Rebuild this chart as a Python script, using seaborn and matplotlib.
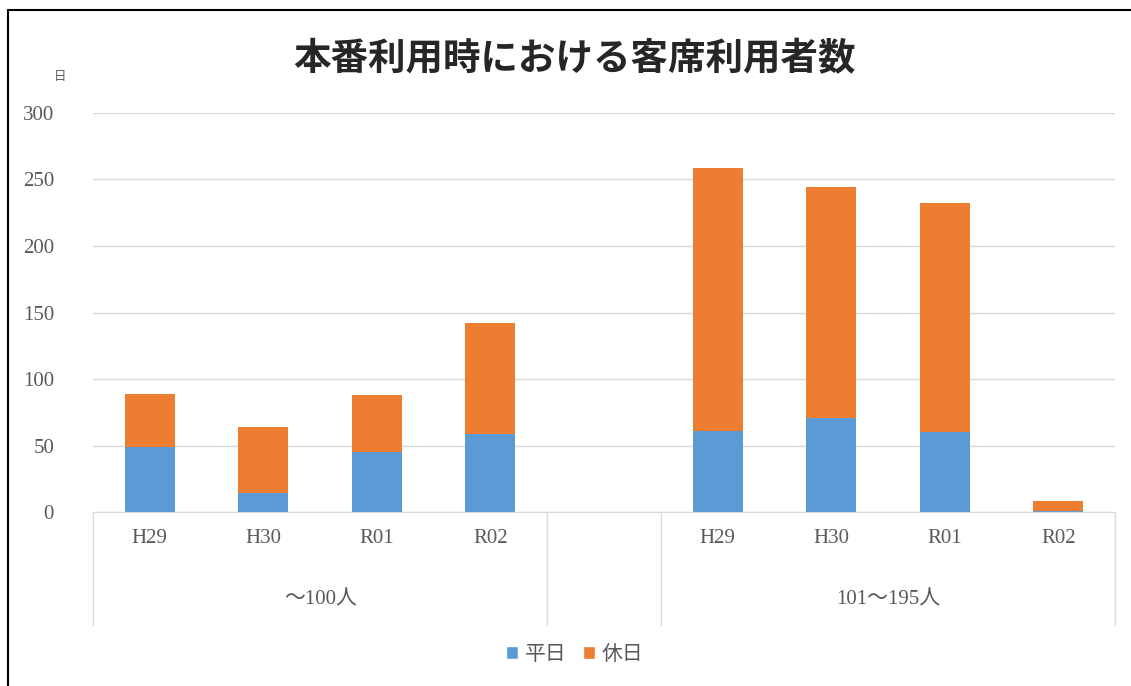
import matplotlib
matplotlib.use("Agg")
import matplotlib.pyplot as plt
import matplotlib.transforms as mtransforms
from matplotlib.lines import Line2D
from matplotlib.patches import Patch
import pandas as pd
import seaborn as sns

# data
groups = ["～100人", "101～195人"]
years = ["H29", "H30", "R01", "R02"]
heijitsu = [[49, 14, 45, 59], [61, 71, 60, 1]]   # 平日
kyujitsu = [[40, 50, 43, 83], [198, 173, 172, 7]]  # 休日
series = ["平日", "休日"]
colors = ["#5B9BD5", "#ED7D31"]

rows = []
for g, hs, ks in zip(groups, heijitsu, kyujitsu):
    for y, h, k in zip(years, hs, ks):
        rows.append({"key": g + "_" + y, "group": g, "year": y, "平日": h, "休日": k})
df = pd.DataFrame(rows)
df["total"] = df["平日"] + df["休日"]

keys1 = [groups[0] + "_" + y for y in years]
keys2 = [groups[1] + "_" + y for y in years]
order = keys1 + ["_gap"] + keys2

sns.set_style("white")
plt.rcParams["font.family"] = ["Liberation Serif", "Noto Sans CJK JP", "DejaVu Sans"]

fig = plt.figure(figsize=(11.31, 6.86), dpi=100)
ax = fig.add_axes([0.0822, 0.2536, 0.9037, 0.5817])

# stacked: full total in orange, weekday part in blue on top of it
sns.barplot(data=df, x="key", y="total", order=order, color=colors[1],
            width=0.44, ax=ax, saturation=1, linewidth=0)
sns.barplot(data=df, x="key", y="平日", order=order, color=colors[0],
            width=0.44, ax=ax, saturation=1, linewidth=0)

ax.set_ylim(0, 300)
ax.set_xlim(-0.5, len(order) - 0.5)
ax.set_yticks(range(0, 301, 50))
ax.yaxis.grid(True, color="#d9d9d9", linewidth=1)
ax.set_axisbelow(True)
for s in ["left", "right", "top"]:
    ax.spines[s].set_visible(False)
ax.spines["bottom"].set_color("#d9d9d9")
ax.tick_params(axis="y", length=0, pad=28, labelsize=15, labelcolor="#595959")
ax.tick_params(axis="x", length=0, pad=12, labelsize=15, labelcolor="#595959")
ax.set_xticks(range(len(order)))
ax.set_xticklabels(years + [""] + years)
ax.set_xlabel("")
ax.set_ylabel("")

# group labels and separators below the axis
trans = mtransforms.blended_transform_factory(ax.transData, ax.transAxes)
for x in [-0.5, 3.5, 4.5, len(order) - 0.5]:
    ax.plot([x, x], [0, -0.283], transform=trans, color="#d9d9d9",
            linewidth=1, clip_on=False)
ax.text(1.5, -0.22, groups[0], transform=trans, ha="center", va="center",
        fontsize=15, color="#595959")
ax.text(6.5, -0.22, groups[1], transform=trans, ha="center", va="center",
        fontsize=15, color="#595959")

fig.text(0.508, 0.915, "本番利用時における客席利用者数", ha="center", va="center",
         fontsize=27, fontweight="bold", family=["Noto Sans CJK JP"])
fig.text(0.053, 0.888, "日", ha="center", va="center", fontsize=9,
         color="#595959", family=["Noto Sans CJK JP"])

handles = [Patch(facecolor=c, label=l) for c, l in zip(colors, series)]
fig.legend(handles=handles, loc="center", bbox_to_anchor=(0.508, 0.045), ncol=2,
           frameon=False, fontsize=15, handlelength=0.6, handleheight=0.6,
           handletextpad=0.3, columnspacing=0.8, labelcolor="#595959")

# frame only on the top and left edges
fig.lines.append(Line2D([0.007, 1.0], [0.985, 0.985], transform=fig.transFigure,
                        color="black", linewidth=1.5))
fig.lines.append(Line2D([0.007, 0.007], [0.0, 0.985], transform=fig.transFigure,
                        color="black", linewidth=1.5))

fig.savefig("out.png", dpi=100)
